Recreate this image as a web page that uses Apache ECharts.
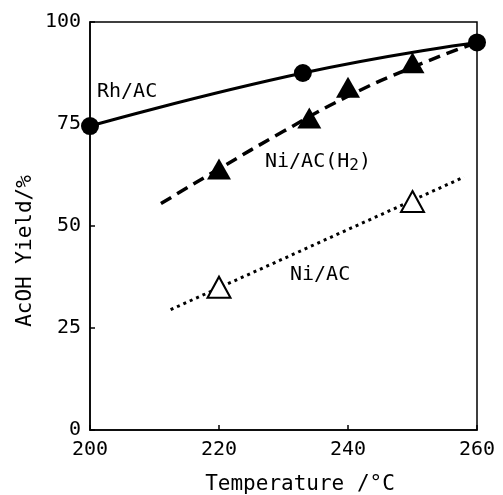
<!DOCTYPE html>
<html>
<head>
<meta charset="utf-8">
<script src="https://cdn.jsdelivr.net/npm/echarts@6/dist/echarts.min.js"></script>
<style>html,body{margin:0;padding:0;background:#fff}#c{width:503px;height:495px}</style>
</head>
<body>
<div id="c"></div>
<script>
// Data
var rhTemp = [200, 233, 260];
var rhYield = [74.5, 87.5, 95];
var niH2Temp = [220, 234, 240, 250];
var niH2Yield = [64, 76.5, 84, 90];
var niH2CurveTemp = [211, 220, 230, 240, 250, 260];
var niH2CurveYield = [55.5, 64, 73.2, 81.8, 88.9, 95];
var niTemp = [220, 250];
var niYield = [35, 56];
var niLineTemp = [212.5, 258];
var niLineYield = [29.5, 62];
var xTicks = [200, 220, 240, 260];
var yTicks = [0, 25, 50, 75, 100];

function pairs(xs, ys) { return xs.map(function (x, i) { return [x, ys[i]]; }); }

var FONT = 'DejaVu Sans Mono';
var chart = echarts.init(document.getElementById('c'));
chart.setOption({
  animation: false,
  backgroundColor: '#fff',
  grid: { left: 90, right: 26, top: 22, bottom: 65, show: true, borderColor: '#000', borderWidth: 1.5 },
  xAxis: {
    type: 'value', min: xTicks[0], max: xTicks[xTicks.length - 1], interval: 20,
    axisLine: { lineStyle: { color: '#000', width: 1.5 } },
    axisTick: { inside: true, length: 5, lineStyle: { color: '#000', width: 1.5 } },
    axisLabel: { fontFamily: FONT, fontSize: 20, color: '#000', margin: 10 },
    splitLine: { show: false }
  },
  yAxis: {
    type: 'value', min: yTicks[0], max: yTicks[yTicks.length - 1], interval: 25,
    axisLine: { lineStyle: { color: '#000', width: 1.5 } },
    axisTick: { inside: true, length: 5, lineStyle: { color: '#000', width: 1.5 } },
    axisLabel: { fontFamily: FONT, fontSize: 20, color: '#000', margin: 9 },
    splitLine: { show: false }
  },
  series: [
    {
      name: 'Rh/AC', type: 'line', smooth: true, data: pairs(rhTemp, rhYield),
      symbol: 'circle', symbolSize: 18,
      itemStyle: { color: '#000', opacity: 1 }, lineStyle: { color: '#000', width: 3 }, z: 3
    },
    {
      name: 'Ni/AC(H2) curve', type: 'line', smooth: 0.5, data: pairs(niH2CurveTemp, niH2CurveYield),
      symbol: 'none', lineStyle: { color: '#000', width: 3.5, type: [12, 7] }, z: 2
    },
    {
      name: 'Ni/AC(H2)', type: 'scatter', data: pairs(niH2Temp, niH2Yield),
      symbol: 'triangle', symbolSize: [24, 21], itemStyle: { color: '#000', opacity: 1 }, z: 4
    },
    {
      name: 'Ni/AC line', type: 'line', data: pairs(niLineTemp, niLineYield),
      symbol: 'none', lineStyle: { color: '#000', width: 3, type: [3, 4] }, z: 2
    },
    {
      name: 'Ni/AC', type: 'scatter', data: pairs(niTemp, niYield),
      symbol: 'triangle', symbolSize: [23, 21],
      itemStyle: { color: '#fff', borderColor: '#000', borderWidth: 2, opacity: 1 }, z: 4
    }
  ],
  graphic: [
    { type: 'text', left: 97, top: 82, style: { text: 'Rh/AC', font: '20px "DejaVu Sans Mono"', fill: '#000' } },
    { type: 'text', left: 265, top: 152, style: { rich: { a: { fontFamily: FONT, fontSize: 20, fill: '#000' }, s: { fontFamily: FONT, fontSize: 16, padding: [8, 0, 0, 0], fill: '#000' } }, text: '{a|Ni/AC(H}{s|2}{a|)}' } },
    { type: 'text', left: 290, top: 265, style: { text: 'Ni/AC', font: '20px "DejaVu Sans Mono"', fill: '#000' } },
    { type: 'text', x: 300, y: 485, style: { text: 'Temperature /°C', font: '21px "DejaVu Sans Mono"', fill: '#000', align: 'center', verticalAlign: 'middle' } },
    { type: 'text', x: 26, y: 251, rotation: Math.PI / 2, style: { text: 'AcOH Yield/%', font: '21px "DejaVu Sans Mono"', fill: '#000', align: 'center', verticalAlign: 'middle' } }
  ]
});
</script>
</body>
</html>
